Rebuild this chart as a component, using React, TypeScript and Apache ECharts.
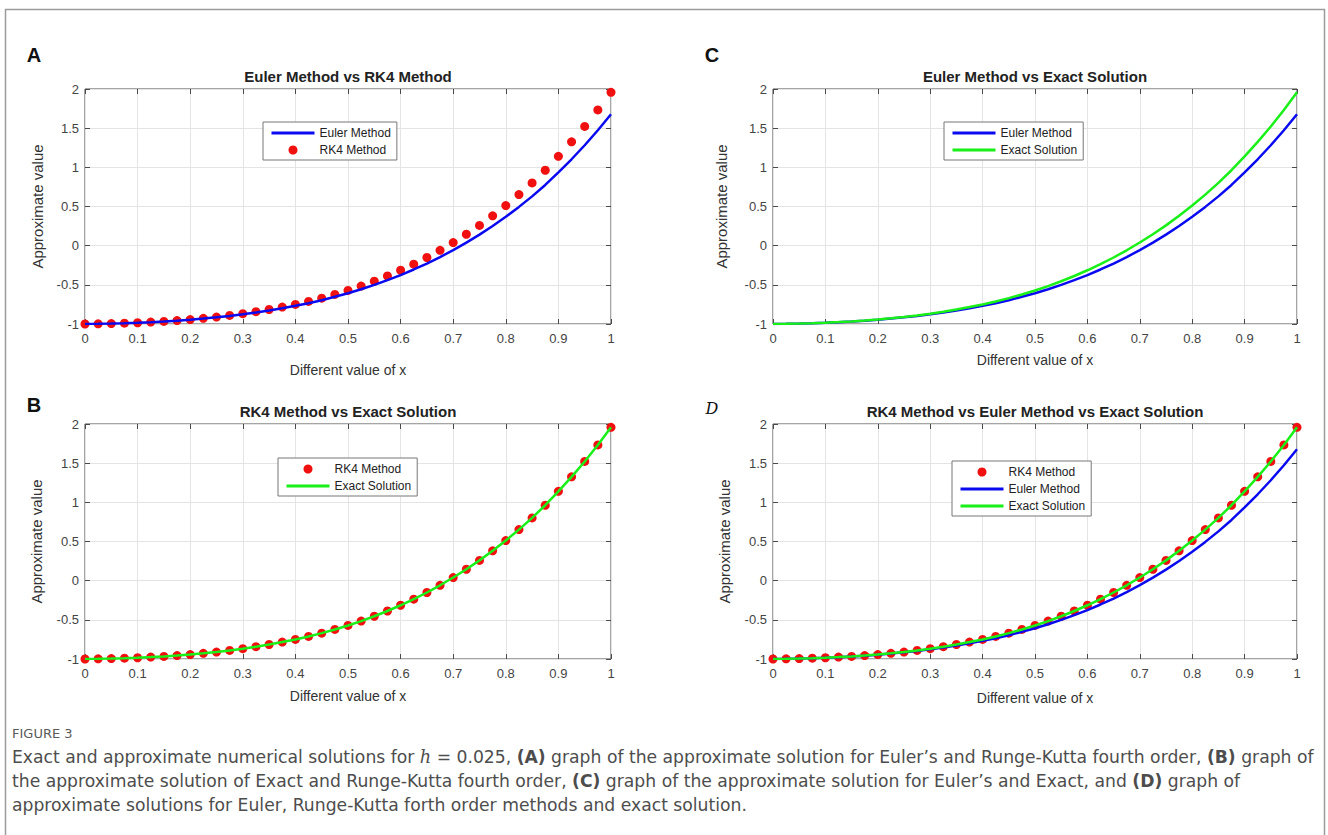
import React, { useEffect, useRef } from "react";
import * as echarts from "echarts";

// ---------- data ----------
const xValues = [
  0, 0.025, 0.05, 0.075, 0.1, 0.125, 0.15, 0.175, 0.2, 0.225, 0.25, 0.275, 0.3, 0.325,
  0.35, 0.375, 0.4, 0.425, 0.45, 0.475, 0.5, 0.525, 0.55, 0.575, 0.6, 0.625, 0.65, 0.675,
  0.7, 0.725, 0.75, 0.775, 0.8, 0.825, 0.85, 0.875, 0.9, 0.925, 0.95, 0.975, 1,
];
const rk4Values = [
  -1.0, -0.998, -0.995, -0.99, -0.984, -0.976, -0.967, -0.956, -0.943, -0.928, -0.911,
  -0.891, -0.868, -0.843, -0.815, -0.784, -0.75, -0.712, -0.67, -0.623, -0.572, -0.516,
  -0.454, -0.387, -0.314, -0.236, -0.151, -0.059, 0.04, 0.146, 0.259, 0.381, 0.512,
  0.652, 0.801, 0.963, 1.14, 1.325, 1.522, 1.733, 1.958,
];
const exactValues = [
  -1.0, -0.998, -0.995, -0.99, -0.984, -0.976, -0.967, -0.956, -0.943, -0.928, -0.911,
  -0.891, -0.868, -0.843, -0.815, -0.784, -0.75, -0.712, -0.67, -0.623, -0.572, -0.516,
  -0.454, -0.387, -0.314, -0.236, -0.151, -0.059, 0.04, 0.146, 0.259, 0.381, 0.512,
  0.652, 0.801, 0.963, 1.14, 1.325, 1.522, 1.733, 1.958,
];
const eulerValues = [
  -1.0, -0.998, -0.995, -0.99, -0.984, -0.977, -0.968, -0.958, -0.945, -0.931, -0.915,
  -0.897, -0.876, -0.853, -0.827, -0.799, -0.768, -0.734, -0.696, -0.653, -0.607, -0.557,
  -0.501, -0.44, -0.375, -0.304, -0.228, -0.145, -0.056, 0.039, 0.141, 0.251, 0.369,
  0.495, 0.629, 0.775, 0.936, 1.103, 1.282, 1.474, 1.678,
];

const panelLetters = ["A", "B", "C", "D"];
const panelTitles = [
  "Euler Method vs RK4 Method",
  "RK4 Method vs Exact Solution",
  "Euler Method vs Exact Solution",
  "RK4 Method vs Euler Method vs Exact Solution",
];
const xAxisName = "Different value of x";
const yAxisName = "Approximate value";
const captionHead = "FIGURE 3";

// ---------- styling / layout ----------
const FONT = "'Liberation Sans', Arial, Helvetica, sans-serif";
const CAP_FONT = "'DejaVu Sans', 'Noto Sans', sans-serif";
const FRAME = "#4a4a4a";
const EULER_COLOR = "#0a0af0";
const EXACT_COLOR = "#18f018";
const RK4_COLOR = "#f01010";

const grids = [
  { left: 85, top: 89, width: 526, height: 235 }, // A
  { left: 85, top: 424, width: 526, height: 235 }, // B
  { left: 773, top: 89, width: 524, height: 235 }, // C
  { left: 773, top: 424, width: 524, height: 235 }, // D
];
const xNameGaps = [39, 30, 29, 32];
const yNameGaps = [40, 41, 44, 41];
const titlePos = [
  [348, 76.5],
  [348, 411],
  [1035, 76.5],
  [1035, 411],
];
const letterPos = [
  [34, 55],
  [34, 405],
  [712, 55],
  [712, 408],
];
const legendPos = [
  { left: 263, top: 122 },
  { left: 278, top: 458 },
  { left: 944, top: 122 },
  { left: 952, top: 461 },
];

function pairs(vals: number[]) {
  return xValues.map((x, i) => [x, vals[i]]);
}

function buildOption() {
  const xAxis: any[] = [];
  const yAxis: any[] = [];
  const tick = { show: true, inside: true, length: 5, lineStyle: { color: FRAME } };
  grids.forEach((_, i) => {
    xAxis.push({
      type: "value",
      gridIndex: i,
      min: 0,
      max: 1,
      interval: 0.1,
      position: "bottom",
      axisLine: { show: false, onZero: false },
      axisTick: tick,
      axisLabel: { margin: 8, fontSize: 13, color: "#444", fontFamily: FONT },
      splitLine: { show: true, lineStyle: { color: "#e4e4e4", width: 1 } },
      name: xAxisName,
      nameLocation: "middle",
      nameGap: xNameGaps[i],
      nameTextStyle: { fontSize: 14, color: "#333", fontFamily: FONT },
    });
    xAxis.push({
      type: "value",
      gridIndex: i,
      min: 0,
      max: 1,
      interval: 0.1,
      position: "top",
      axisLine: { show: false, onZero: false },
      axisTick: tick,
      axisLabel: { show: false },
      splitLine: { show: false },
    });
    yAxis.push({
      type: "value",
      gridIndex: i,
      min: -1,
      max: 2,
      interval: 0.5,
      position: "left",
      axisLine: { show: false, onZero: false },
      axisTick: tick,
      axisLabel: { margin: 6, fontSize: 13, color: "#444", fontFamily: FONT },
      splitLine: { show: true, lineStyle: { color: "#e4e4e4", width: 1 } },
      name: yAxisName,
      nameLocation: "middle",
      nameGap: yNameGaps[i],
      nameTextStyle: { fontSize: 15, color: "#333", fontFamily: FONT },
    });
    yAxis.push({
      type: "value",
      gridIndex: i,
      min: -1,
      max: 2,
      interval: 0.5,
      position: "right",
      axisLine: { show: false, onZero: false },
      axisTick: tick,
      axisLabel: { show: false },
      splitLine: { show: false },
    });
  });

  const euler = (g: number) => ({
    name: "Euler Method",
    type: "line",
    xAxisIndex: g * 2,
    yAxisIndex: g * 2,
    data: pairs(eulerValues),
    symbol: "none",
    showSymbol: false,
    lineStyle: { color: EULER_COLOR, width: 2.5 },
    itemStyle: { color: EULER_COLOR },
    silent: true,
  });
  const exact = (g: number) => ({
    name: "Exact Solution",
    type: "line",
    xAxisIndex: g * 2,
    yAxisIndex: g * 2,
    data: pairs(exactValues),
    symbol: "none",
    showSymbol: false,
    lineStyle: { color: EXACT_COLOR, width: 2.5 },
    itemStyle: { color: EXACT_COLOR },
    silent: true,
  });
  const rk4 = (g: number) => ({
    name: "RK4 Method",
    type: "scatter",
    xAxisIndex: g * 2,
    yAxisIndex: g * 2,
    data: pairs(rk4Values),
    symbol: "circle",
    symbolSize: 9,
    itemStyle: { color: RK4_COLOR, opacity: 1 },
    silent: true,
  });

  const series = [euler(0), rk4(0), rk4(1), exact(1), euler(2), exact(2), rk4(3), euler(3), exact(3)];

  const lineItem = (name: string, color: string) => ({
    name,
    itemStyle: { opacity: 0, borderWidth: 0 },
    lineStyle: { color, width: 3 },
  });
  const dotItem = { name: "RK4 Method" };
  const legendItems = [
    [lineItem("Euler Method", EULER_COLOR), dotItem],
    [dotItem, lineItem("Exact Solution", EXACT_COLOR)],
    [lineItem("Euler Method", EULER_COLOR), lineItem("Exact Solution", EXACT_COLOR)],
    [dotItem, lineItem("Euler Method", EULER_COLOR), lineItem("Exact Solution", EXACT_COLOR)],
  ];
  const legend = legendItems.map((items, i) => ({
    ...legendPos[i],
    orient: "vertical",
    data: items,
    selectedMode: false,
    backgroundColor: "#ffffff",
    borderColor: "#777",
    borderWidth: 1,
    borderRadius: 0,
    padding: [5, 6, 4, 7],
    itemWidth: 43,
    itemHeight: 9,
    itemGap: 5,
    textStyle: { fontSize: 12, color: "#222", fontFamily: FONT },
  }));

  const graphic: any[] = [
    {
      type: "rect",
      shape: { x: 5.5, y: 9.5, width: 1319, height: 840 },
      style: { fill: "none", stroke: "#9c9c9c", lineWidth: 1.5 },
      silent: true,
    },
  ];
  panelTitles.forEach((t, i) => {
    graphic.push({
      type: "text",
      x: titlePos[i][0],
      y: titlePos[i][1],
      style: {
        text: t,
        fontSize: 15,
        fontWeight: "bold",
        fontFamily: FONT,
        fill: "#222",
        align: "center",
        verticalAlign: "middle",
      },
      silent: true,
    });
  });
  panelLetters.forEach((l, i) => {
    const isD = i === 3;
    graphic.push({
      type: "text",
      x: letterPos[i][0],
      y: letterPos[i][1],
      style: {
        text: l,
        fontSize: isD ? 16 : 20,
        fontWeight: isD ? "normal" : "bold",
        fontStyle: isD ? "italic" : "normal",
        fontFamily: isD ? "'DejaVu Serif', serif" : FONT,
        fill: "#111",
        align: "center",
        verticalAlign: "middle",
      },
      silent: true,
    });
  });

  const CAP_SIZE = 17.2;
  const capRich = {
    n: { fontSize: CAP_SIZE, fontFamily: CAP_FONT, color: "#4d4d4d" },
    b: { fontSize: CAP_SIZE, fontFamily: CAP_FONT, fontWeight: "bold", color: "#4d4d4d" },
    i: { fontSize: CAP_SIZE + 0.5, fontFamily: "'DejaVu Serif', serif", fontStyle: "italic", color: "#4d4d4d" },
  };
  const captionLines = [
    "{n|Exact and approximate numerical solutions for }{i|h}{n| = 0.025, }{b|(A)}{n| graph of the approximate solution for Euler’s and Runge-Kutta fourth order, }{b|(B)}{n| graph of}",
    "{n|the approximate solution of Exact and Runge-Kutta fourth order, }{b|(C)}{n| graph of the approximate solution for Euler’s and Exact, and }{b|(D)}{n| graph of}",
    "{n|approximate solutions for Euler, Runge-Kutta forth order methods and exact solution.}",
  ];
  graphic.push({
    type: "text",
    x: 12,
    y: 733,
    style: {
      text: captionHead,
      fontSize: 13,
      fontFamily: CAP_FONT,
      fill: "#5a5a5a",
      align: "left",
      verticalAlign: "middle",
    },
    silent: true,
  });
  captionLines.forEach((line, i) => {
    graphic.push({
      type: "text",
      x: 12,
      y: 757 + i * 24,
      style: {
        text: line,
        rich: capRich,
        fill: "#4d4d4d",
        align: "left",
        verticalAlign: "middle",
      },
      silent: true,
    });
  });

  return {
    animation: false,
    backgroundColor: "#ffffff",
    grid: grids.map((g) => ({
      ...g,
      show: true,
      backgroundColor: "#ffffff",
      borderColor: FRAME,
      borderWidth: 1,
      containLabel: false,
    })),
    xAxis,
    yAxis,
    legend,
    series,
    graphic,
  };
}

export default function App() {
  const ref = useRef<HTMLDivElement>(null);
  useEffect(() => {
    if (!ref.current) return;
    const chart = echarts.init(ref.current, null, { renderer: "svg", width: 1328, height: 835 });
    chart.setOption(buildOption() as any);
    return () => chart.dispose();
  }, []);
  return (
    <div
      ref={ref}
      style={{ position: "absolute", left: 0, top: 0, width: 1328, height: 835, background: "#fff" }}
    />
  );
}
